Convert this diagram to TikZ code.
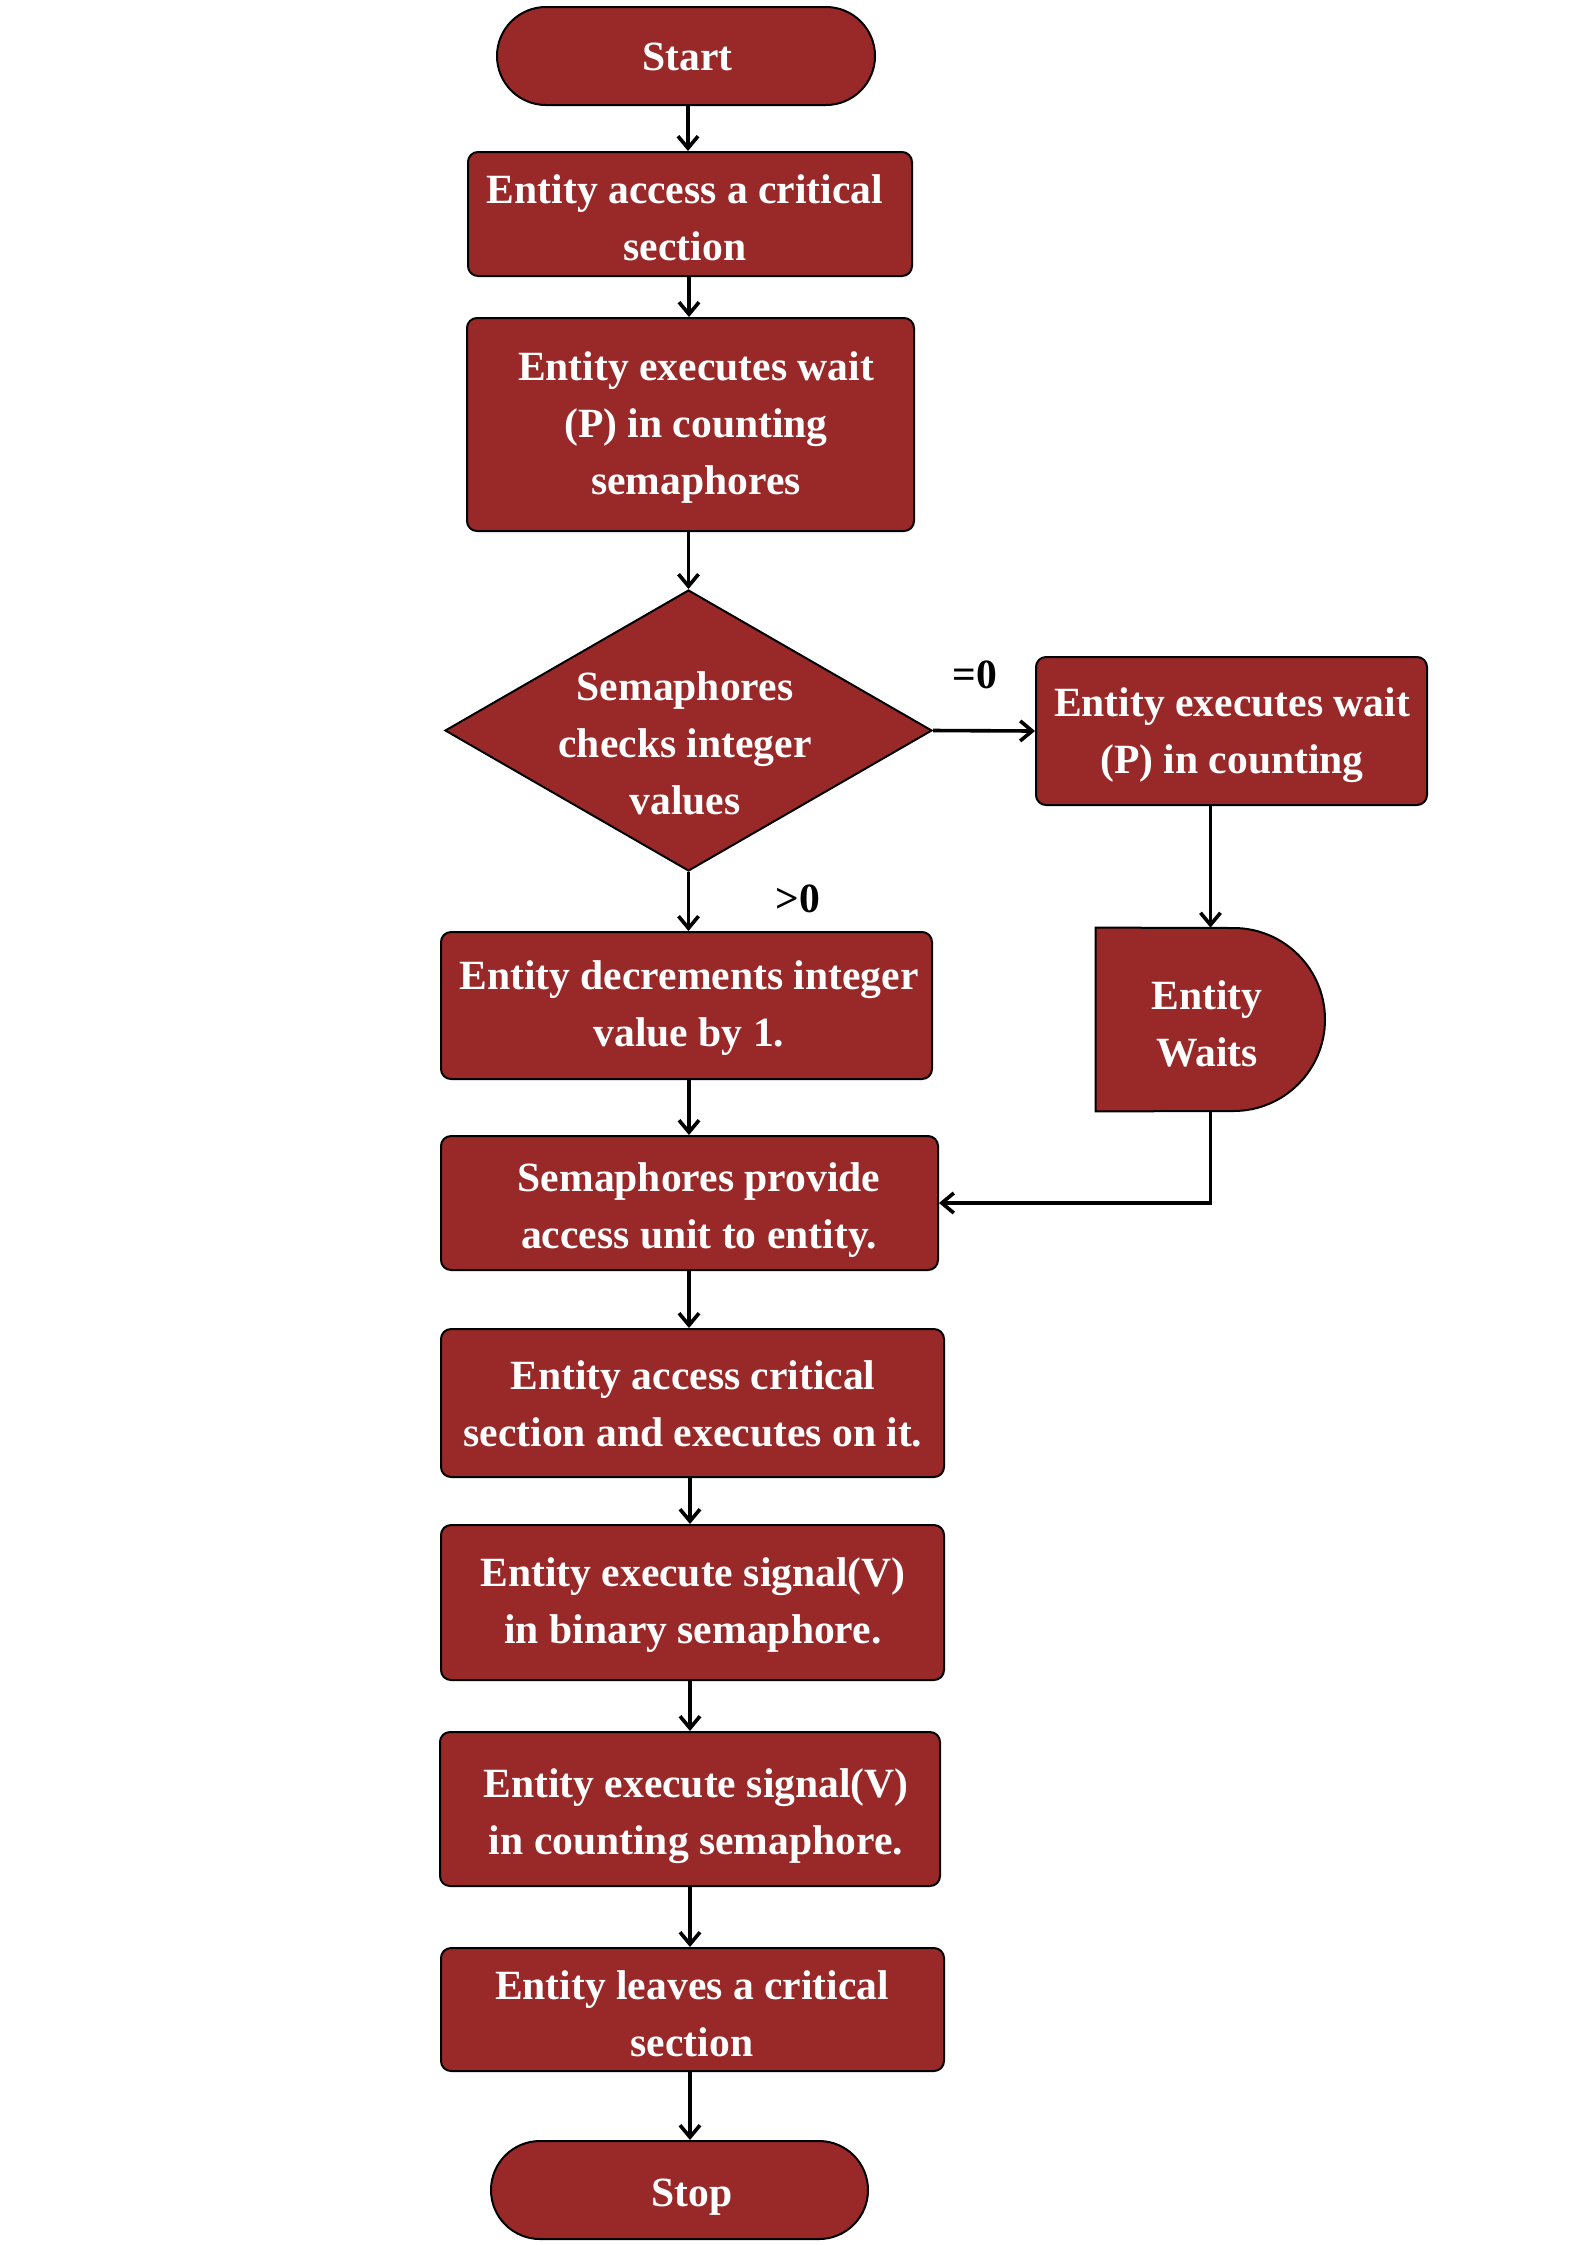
\documentclass[tikz,border=0pt]{standalone}
\usepackage{fontspec}
\setmainfont{Liberation Serif}
\usetikzlibrary{shapes.geometric,shapes.misc,arrows.meta}
\definecolor{boxred}{RGB}{153,41,41}
\tikzset{
  box/.style={draw=black, line width=1pt, fill=boxred, rounded corners=5pt, inner sep=0pt},
  term/.style={draw=black, line width=1pt, fill=boxred, rounded rectangle, inner sep=0pt},
  txt/.style={text=white, align=center, font=\bfseries\fontsize{20.8}{28.5}\selectfont, inner sep=0pt},
  lbl/.style={text=black, font=\bfseries\fontsize{20.8}{25}\selectfont, inner sep=0pt},
  arr/.style={line width=1.8pt, -{Straight Barb[length=6pt,width=10pt,line width=1.8pt]}},
}
\begin{document}
\begin{tikzpicture}[x=0.5pt,y=-0.5pt]
\useasboundingbox[fill=white] (0,0) rectangle (1587,2245);
% shapes
\node[term, minimum width=189pt, minimum height=49pt] (start) at (686,56) {};
\node[box, minimum width=222pt, minimum height=62pt] (b1) at (690,214) {};
\node[box, minimum width=223.5pt, minimum height=106.5pt] (b2) at (690.5,424.5) {};
\node[diamond, draw=black, line width=1pt, fill=boxred, inner sep=0pt, minimum width=243.5pt, minimum height=140.5pt] (dia) at (688.5,730.5) {};
\node[box, minimum width=195.5pt, minimum height=74pt] (rb) at (1231.5,731) {};
\node[box, minimum width=245.5pt, minimum height=73.5pt] (dec) at (686.5,1005.5) {};
\node[minimum width=114.5pt, minimum height=91.5pt, inner sep=0pt] (wait) at (1210.5,1019.5) {};
\draw[line width=1pt, fill=boxred] (wait.north west) -- (1233.5,928) arc[start angle=-90, end angle=90, radius=91.5] -- (wait.south west) -- cycle;
\node[box, minimum width=248.5pt, minimum height=67pt] (prov) at (689.5,1203) {};
\node[box, minimum width=251.5pt, minimum height=74pt] (acc) at (692.5,1403) {};
\node[box, minimum width=251.5pt, minimum height=77.5pt] (bin) at (692.5,1602.5) {};
\node[box, minimum width=250pt, minimum height=77pt] (cnt) at (690,1809) {};
\node[box, minimum width=251.5pt, minimum height=61.5pt] (lv) at (692.5,2009.5) {};
\node[term, minimum width=188.5pt, minimum height=49pt] (stop) at (679.5,2190) {};
% texts
\node[txt] (tstart) at (687.5,57) {Start};
\node[txt] (t1) at (685,218) {Entity access a critical\\section};
\node[txt] (t2) at (696,427) {Entity executes wait\\(P) in counting\\semaphores};
\node[txt] (tdia) at (685,743) {Semaphores\\checks integer\\values};
\node[txt] (trb) at (1232,735) {Entity executes wait\\(P) in counting};
\node[txt] (tdec) at (689,1008) {Entity decrements integer\\value by 1.};
\node[txt] (twait) at (1207,1024) {Entity\\Waits};
\node[txt] (tprov) at (699,1210) {Semaphores provide\\access unit to entity.};
\node[txt] (tacc) at (693,1404) {Entity access critical\\section and executes on it.};
\node[txt] (tbin) at (693,1605) {Entity execute signal(V)\\in binary semaphore.};
\node[txt] (tcnt) at (696,1816) {Entity execute signal(V)\\in counting semaphore.};
\node[txt] (tlv) at (692,2014) {Entity leaves a critical\\section};
\node[txt] (tstop) at (692,2197) {Stop};
% labels
\node[lbl] (eq) at (975,675) {=0};
\node[lbl] (gt) at (798,899) {>0};
% connectors
\draw[arr] (start.south -| 688,0) -- (b1.north -| 688,0);
\draw[arr] (b1.south -| 689,0) -- (b2.north -| 689,0);
\draw[arr] (b2.south -| dia.north) -- (dia.north);
\draw[arr] (dia.south) -- (dia.south |- dec.north);
\draw[arr] (dia.east) -- (rb.west);
\draw[arr] (wait.north |- rb.south) -- (wait.north);
\draw[arr] (wait.south) |- (prov.east);
\draw[arr] (dec.south -| 689,0) -- (prov.north -| 689,0);
\draw[arr] (prov.south -| 689,0) -- (acc.north -| 689,0);
\draw[arr] (acc.south -| 690,0) -- (bin.north -| 690,0);
\draw[arr] (bin.south -| 690,0) -- (cnt.north -| 690,0);
\draw[arr] (cnt.south -| 690,0) -- (lv.north -| 690,0);
\draw[arr] (lv.south -| 690,0) -- (stop.north -| 690,0);
\end{tikzpicture}
\end{document}
